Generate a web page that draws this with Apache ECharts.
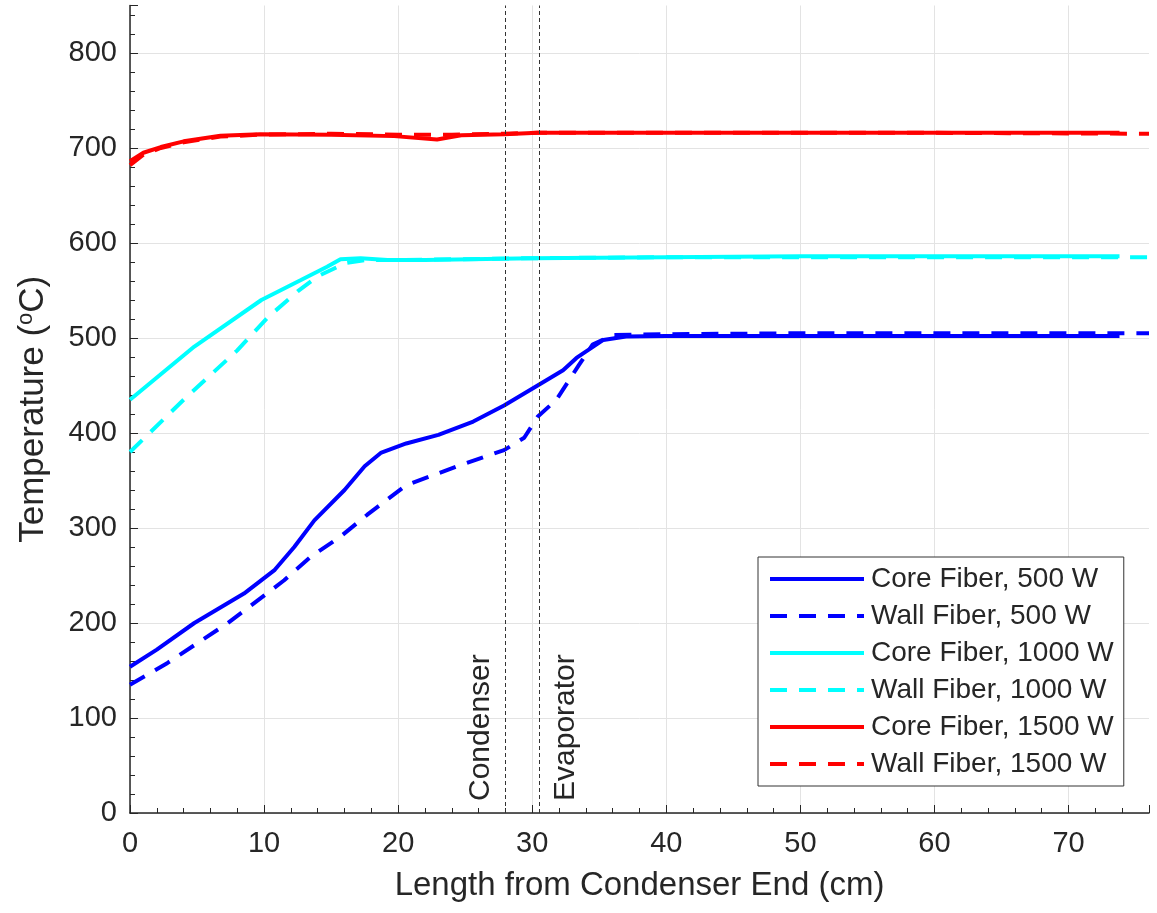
<!DOCTYPE html>
<html>
<head>
<meta charset="utf-8">
<script src="https://cdn.jsdelivr.net/npm/echarts@6/dist/echarts.min.js"></script>
<style>
html,body{margin:0;padding:0;background:#fff;}
#chart{width:1157px;height:913px;}
</style>
</head>
<body>
<div id="chart"></div>
<script>
// ---- Data ----
const core500X = [0, 2, 4.8, 8.5, 10.8, 12.25, 13.75, 16, 17.5, 18.7, 20.6, 23, 25.6, 27.9, 30.4, 32.3, 33.3, 35.3, 37, 40, 50, 60, 73.8];
const core500Y = [154, 172, 200, 231, 256, 280, 308, 340, 365, 379, 389, 398, 412, 429, 450, 466, 479, 498, 501.5, 502, 502, 502, 502];

const wall500X = [0, 2.8, 7.3, 11.5, 13.5, 15.7, 17.7, 20.6, 24.6, 27.9, 29.4, 30.4, 31.8, 33.5, 34.5, 36, 40, 50, 60, 70, 76];
const wall500Y = [135, 158, 200, 245, 270, 291, 314, 345, 366, 382, 395, 417, 435, 472, 493, 503, 504, 505, 505, 505, 505];

const core1000X = [0, 4.8, 9.8, 12.75, 14.7, 15.7, 17.2, 19.2, 22, 30, 40, 50, 60, 73.8];
const core1000Y = [435, 491, 540, 561, 575, 583, 584, 582, 582, 584, 585, 586, 586, 586];

const wall1000X = [0, 2.55, 4, 8, 10.3, 12.5, 14, 16.1, 17.5, 20, 30, 40, 60, 76];
const wall1000Y = [380, 415, 435, 487, 522, 549, 565, 579, 582, 582, 584, 585, 585, 585];

const core1500X = [0, 1, 2.3, 4, 6.75, 9.7, 15, 19.7, 22.9, 24.7, 27.9, 30.4, 40, 50, 60, 73.8];
const core1500Y = [686, 695, 701, 707, 713, 714.5, 714, 712.5, 709, 713.5, 714.5, 716, 716, 716, 716, 716];

const wall1500X = [0, 1, 2.3, 4, 6.75, 9.7, 15, 20, 24, 27.9, 30.4, 40, 60, 76];
const wall1500Y = [682, 693, 700, 706, 712, 714, 715, 714, 714, 715, 716, 716, 716, 715];

const seriesNames = ['Core Fiber, 500 W', 'Wall Fiber, 500 W', 'Core Fiber, 1000 W', 'Wall Fiber, 1000 W', 'Core Fiber, 1500 W', 'Wall Fiber, 1500 W'];

const condenserX = 28;
const evaporatorX = 30.5;
const zoneLabels = ['Condenser', 'Evaporator'];

const xMin = 0, xMax = 76, xInterval = 10;
const yMin = 0, yMax = 850, yInterval = 100;

const xAxisTitle = 'Length from Condenser End (cm)';

// ---- Build ----
function pairs(xs, ys) { return xs.map((x, i) => [x, ys[i]]); }

const FONT = '"Liberation Sans", Arial, sans-serif';
const TXT = '#262626';
const DASH = [17, 12];

function lineSeries(name, xs, ys, color, dashed, z) {
  return {
    name: name,
    type: 'line',
    data: pairs(xs, ys),
    symbol: 'none',
    smooth: false,
    z: z,
    lineStyle: { color: color, width: 4, type: dashed ? DASH : 'solid' },
    itemStyle: { color: color }
  };
}

const series = [
  lineSeries(seriesNames[0], core500X, core500Y, '#0000ff', false, 2),
  lineSeries(seriesNames[1], wall500X, wall500Y, '#0000ff', true, 3),
  lineSeries(seriesNames[2], core1000X, core1000Y, '#00ffff', false, 2),
  lineSeries(seriesNames[3], wall1000X, wall1000Y, '#00ffff', true, 3),
  lineSeries(seriesNames[4], core1500X, core1500Y, '#ff0000', false, 2),
  lineSeries(seriesNames[5], wall1500X, wall1500Y, '#ff0000', true, 3)
];

// vertical marker lines
series.push({
  name: 'markers',
  type: 'line',
  data: [],
  silent: true,
  markLine: {
    silent: true,
    symbol: ['none', 'none'],
    animation: false,
    lineStyle: { color: '#333', width: 1, type: [4, 3] },
    data: [
      [
        { coord: [condenserX, yMin],
          label: { show: true, formatter: zoneLabels[0], position: 'insideStartTop', distance: [12, 10],
                   fontSize: 30, color: TXT, fontFamily: FONT } },
        { coord: [condenserX, yMax] }
      ],
      [
        { coord: [evaporatorX, yMin],
          label: { show: true, formatter: zoneLabels[1], position: 'insideStartBottom', distance: [12, 12],
                   fontSize: 30, color: TXT, fontFamily: FONT } },
        { coord: [evaporatorX, yMax] }
      ]
    ]
  }
});

const chart = echarts.init(document.getElementById('chart'), null, { renderer: 'canvas' });

chart.setOption({
  animation: false,
  backgroundColor: '#ffffff',
  textStyle: { fontFamily: FONT },
  grid: { left: 130, right: 8, top: 5.5, bottom: 100, containLabel: false },
  legend: {
    data: seriesNames,
    orient: 'vertical',
    left: 758,
    top: 557,
    itemWidth: 94,
    itemHeight: 14,
    itemGap: 9,
    padding: [8, 10, 8, 10],
    backgroundColor: '#ffffff',
    borderColor: '#333333',
    borderWidth: 1,
    borderRadius: 0,
    itemStyle: { opacity: 0 },
    lineStyle: { width: 4 },
    textStyle: { fontSize: 28, color: TXT, fontFamily: FONT, padding: [0, 0, 0, 2] },
    selectedMode: false
  },
  xAxis: {
    type: 'value',
    min: xMin, max: xMax, interval: xInterval,
    name: xAxisTitle,
    nameLocation: 'middle',
    nameGap: 56,
    nameTextStyle: { fontSize: 33, color: TXT, fontFamily: FONT },
    axisLine: { show: true, onZero: false, lineStyle: { color: TXT, width: 1.5 } },
    axisTick: { show: true, inside: true, length: 8, lineStyle: { color: TXT } },
    minorTick: { show: true, splitNumber: 5, length: 5, lineStyle: { color: TXT } },
    axisLabel: { fontSize: 29, color: TXT, margin: 16, fontFamily: FONT, showMaxLabel: false },
    splitLine: { show: true, showMaxLine: false, lineStyle: { color: '#e3e3e3', width: 1 } },
    minorSplitLine: { show: false }
  },
  yAxis: {
    type: 'value',
    min: yMin, max: yMax, interval: yInterval,
    name: 'Temperature ({sup|o}C)',
    nameLocation: 'middle',
    nameGap: 78,
    nameTextStyle: {
      fontSize: 35, color: TXT, fontFamily: FONT,
      rich: { sup: { fontSize: 22, color: TXT, fontFamily: FONT, verticalAlign: 'top', padding: [0, 0, 15, 0] } }
    },
    axisLine: { show: true, onZero: false, lineStyle: { color: TXT, width: 1.5 } },
    axisTick: { show: true, inside: true, length: 8, lineStyle: { color: TXT } },
    minorTick: { show: true, splitNumber: 5, length: 5, lineStyle: { color: TXT } },
    axisLabel: { fontSize: 29, color: TXT, margin: 13, fontFamily: FONT, showMaxLabel: false },
    splitLine: { show: true, showMaxLine: false, lineStyle: { color: '#e3e3e3', width: 1 } },
    minorSplitLine: { show: false }
  },
  series: series
});
</script>
</body>
</html>
